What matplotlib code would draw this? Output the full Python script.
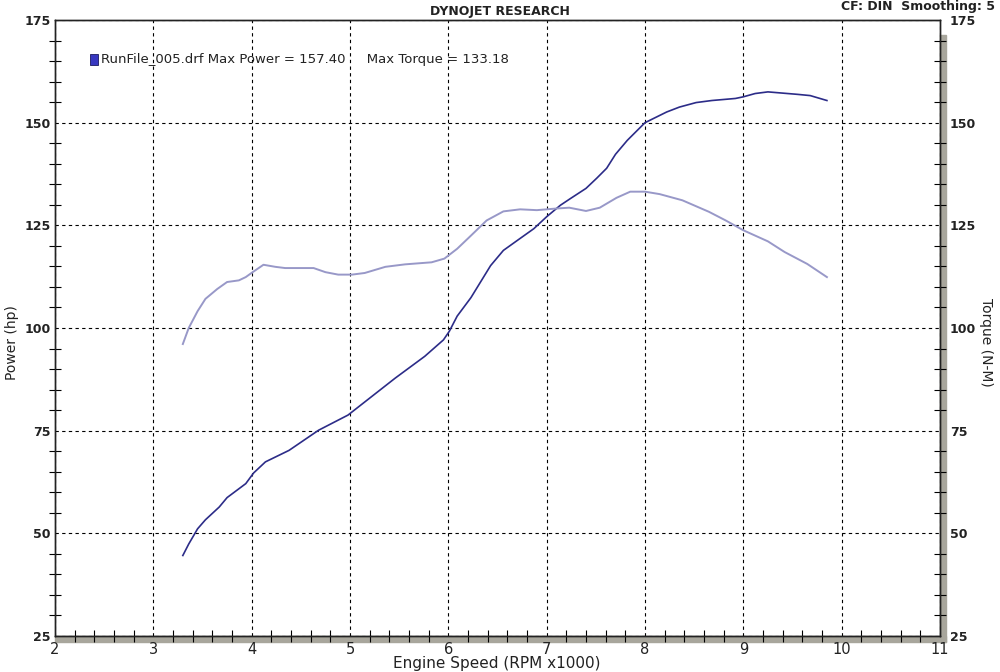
import numpy as np
import matplotlib
matplotlib.use("Agg")
import matplotlib.pyplot as plt
from matplotlib.ticker import MultipleLocator
from matplotlib.patches import Rectangle

# engine speed (rpm x1000) and readings taken off the dyno sheet
rpm_power = [3.30, 3.36, 3.45, 3.53, 3.67, 3.75, 3.94, 4.02, 4.14, 4.38, 4.68, 4.98,
             5.22, 5.46, 5.76, 5.95, 6.01, 6.09, 6.23, 6.43, 6.56, 6.70, 6.87, 7.00,
             7.14, 7.24, 7.40, 7.51, 7.61, 7.70, 7.82, 8.00, 8.22, 8.35, 8.52, 8.68,
             8.92, 9.00, 9.12, 9.25, 9.35, 9.55, 9.68, 9.85]
power_hp = [44.6, 47.4, 51.1, 53.3, 56.4, 58.7, 62.1, 64.7, 67.4, 70.2, 75.1, 78.8,
            83.3, 87.8, 93.1, 97.1, 99.2, 102.9, 107.4, 115.2, 118.9, 121.3, 124.2, 127.1,
            129.9, 131.5, 134.0, 136.5, 138.9, 142.3, 145.7, 150.0, 152.6, 153.8, 154.9, 155.4,
            155.9, 156.3, 157.1, 157.5, 157.3, 156.9, 156.6, 155.4]

rpm_torque = [3.30, 3.36, 3.45, 3.53, 3.65, 3.75, 3.87, 3.94, 4.01, 4.12, 4.24, 4.34,
              4.63, 4.75, 4.88, 5.02, 5.15, 5.36, 5.56, 5.83, 5.96, 6.09, 6.23, 6.39,
              6.56, 6.73, 6.90, 7.10, 7.23, 7.40, 7.54, 7.71, 7.85, 8.00, 8.15, 8.38,
              8.65, 8.82, 9.00, 9.25, 9.42, 9.65, 9.85]
torque_nm = [96.1, 100.0, 104.1, 107.1, 109.5, 111.2, 111.6, 112.4, 113.6, 115.4, 114.9, 114.6,
             114.6, 113.6, 113.0, 113.0, 113.4, 114.9, 115.5, 116.0, 116.9, 119.3, 122.5, 126.2,
             128.4, 128.9, 128.7, 129.1, 129.3, 128.5, 129.3, 131.7, 133.2, 133.2, 132.6, 131.1,
             128.3, 126.2, 123.8, 121.1, 118.5, 115.6, 112.4]

run_name = "RunFile_005.drf"
max_power = 157.40
max_torque = 133.18

power_color = "#2c2c88"
torque_color = "#9898c8"
shadow = "#a8a69c"
ink = "#222222"
narrow = ["Liberation Sans Narrow", "DejaVu Sans"]

fig = plt.figure(figsize=(10, 6.72), dpi=100)
ax = fig.add_axes([0.055, 0.0536, 0.885, 0.9166])
ax2 = ax.twinx()

ax.plot(rpm_power, power_hp, color=power_color, lw=1.2, zorder=3)
ax2.plot(rpm_torque, torque_nm, color=torque_color, lw=1.4, zorder=3)

for a in (ax, ax2):
    a.set_xlim(2, 11)
    a.set_ylim(25, 175)
    a.yaxis.set_major_locator(MultipleLocator(25))
    a.yaxis.set_minor_locator(MultipleLocator(5))

ax.xaxis.set_major_locator(MultipleLocator(1))
ax.xaxis.set_minor_locator(MultipleLocator(0.2))
ax.grid(True, which="major", color="black", ls=(0, (3, 3)), lw=0.8)

ax.tick_params(axis="y", which="both", direction="inout", length=8, width=0.8,
               labelsize=9, pad=3)
ax.tick_params(axis="y", which="major", length=0)
ax.tick_params(axis="x", which="both", direction="inout", length=8, width=0.8,
               labelsize=10.5, pad=4)
ax.tick_params(axis="x", which="major", length=0)
ax2.tick_params(axis="y", which="both", direction="inout", length=8, width=0.8,
                labelsize=9, pad=7)
ax2.tick_params(axis="y", which="major", length=0)

for t in ax.get_yticklabels() + ax2.get_yticklabels():
    t.set_fontweight("bold")
    t.set_color(ink)
for t in ax.get_xticklabels():
    t.set_family(narrow)
    t.set_color(ink)

for a in (ax, ax2):
    for s in a.spines.values():
        s.set_linewidth(1.0)
        s.set_color(ink)

# gray shadow along the bottom and right side of the plot frame
ax.add_patch(Rectangle((0, -0.009), 1.007, 0.009, transform=ax.transAxes,
                       color=shadow, clip_on=False, zorder=1))
ax.add_patch(Rectangle((1.0, -0.009), 0.007, 0.985, transform=ax.transAxes,
                       color=shadow, clip_on=False, zorder=1))

fig.text(0.497, 0.013, "Engine Speed (RPM x1000)", ha="center", va="center",
         fontsize=11, family=narrow, color=ink)
fig.text(0.012, 0.49, "Power (hp)", ha="center", va="center", rotation=90,
         fontsize=10, color=ink)
fig.text(0.986, 0.49, "Torque (N-M)", ha="center", va="center", rotation=-90,
         fontsize=10, color=ink)

fig.text(0.50, 0.983, "DYNOJET RESEARCH", ha="center", va="center",
         fontsize=9, weight="bold", color=ink)
fig.text(0.995, 0.990, "CF: DIN  Smoothing: 5", ha="right", va="center",
         fontsize=9, weight="bold", color=ink)

# legend line
fig.patches.append(Rectangle((0.090, 0.904), 0.008, 0.016, transform=fig.transFigure,
                             facecolor="#3838c0", edgecolor="#1a1a60", lw=0.6))
fig.text(0.101, 0.911,
         f"{run_name} Max Power = {max_power:.2f}     Max Torque = {max_torque:.2f}",
         ha="left", va="center", fontsize=9.5, color=ink)

fig.savefig("out.png", dpi=100, facecolor="white")
